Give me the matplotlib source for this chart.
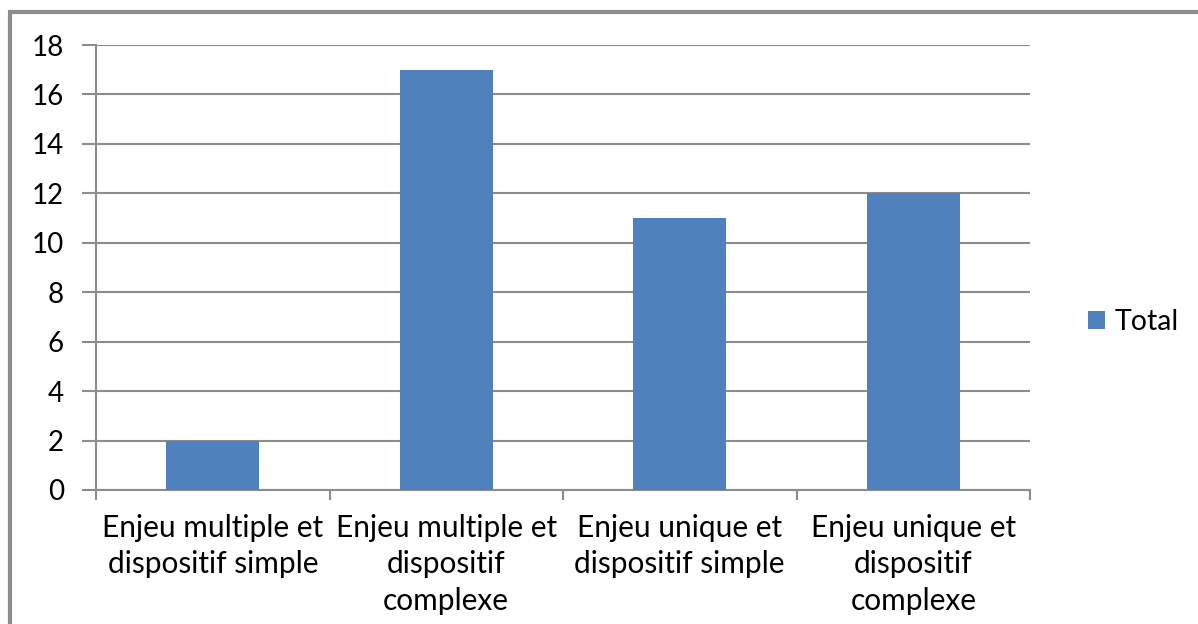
import matplotlib.pyplot as plt
from matplotlib.patches import Rectangle
import numpy as np

plt.rcParams['font.family'] = ['Lato', 'DejaVu Sans']

categories = ['Enjeu multiple et\ndispositif simple',
              'Enjeu multiple et\ndispositif\ncomplexe',
              'Enjeu unique et\ndispositif simple',
              'Enjeu unique et\ndispositif\ncomplexe']
totals = [2, 17, 11, 12]
yticks = [0, 2, 4, 6, 8, 10, 12, 14, 16, 18]

W, H = 1198, 624
fig = plt.figure(figsize=(W / 100, H / 100), dpi=100)
ax = fig.add_axes([96 / W, 1 - 490 / H, (1030 - 96) / W, (490 - 45) / H])

grey = '#8c8c8c'
x = np.arange(len(categories))
ax.bar(x, totals, width=0.4, color='#4F81BD', label='Total', zorder=3)

ax.set_xlim(-0.5, len(categories) - 0.5)
ax.set_ylim(0, 18)
ax.set_yticks(yticks)
ax.set_yticklabels([str(v) for v in yticks], fontsize=20)
ax.yaxis.grid(True, color=grey, linewidth=1.5, zorder=0)
ax.set_axisbelow(True)

# category boundary ticks, labels at centres
ax.set_xticks(np.arange(len(categories) + 1) - 0.5)
ax.set_xticklabels([''] * (len(categories) + 1))
ax.set_xticks(x, minor=True)
ax.set_xticklabels(categories, minor=True, fontsize=21.5, linespacing=1.38, va='top')
ax.tick_params(axis='x', which='minor', length=0, pad=17)
ax.tick_params(axis='x', which='major', length=7, width=1.5, color=grey)
ax.tick_params(axis='y', length=10, width=1.5, color=grey, pad=13)

for side in ['top', 'right']:
    ax.spines[side].set_visible(False)
for side in ['left', 'bottom']:
    ax.spines[side].set_color(grey)
    ax.spines[side].set_linewidth(1.5)

ax.legend(loc='center left', bbox_to_anchor=(1062 / W, 1 - 322 / H),
          bbox_transform=fig.transFigure, frameon=False, fontsize=20.5,
          handlelength=0.6, handleheight=0.6, handletextpad=0.35)

# outer chart border (cut off at right and bottom)
fig.add_artist(Rectangle((10 / W, -0.1), 1.2, 1 - 12 / H + 0.1,
                         transform=fig.transFigure, fill=False,
                         edgecolor=grey, linewidth=3))

fig.savefig('out.png', dpi=100, facecolor='white')
